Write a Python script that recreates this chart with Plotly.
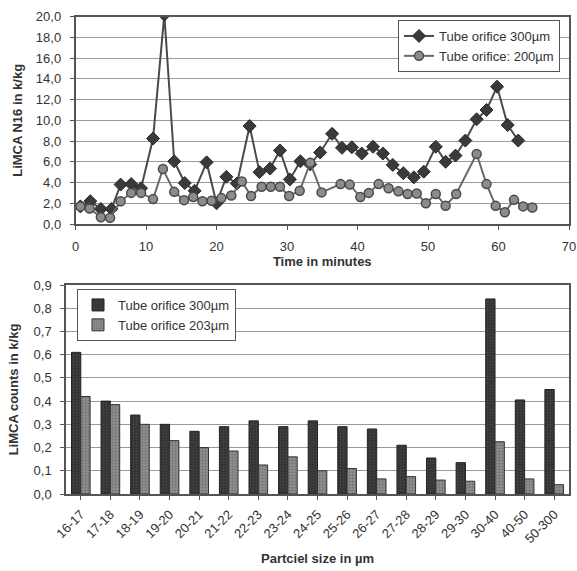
import plotly.graph_objects as go

# ---- Top chart data (time series) ----
t_300 = [0.7, 2.1, 3.6, 5.1, 6.4, 7.9, 9.3, 11.0, 12.6, 14.0, 15.5, 16.9, 18.6, 20.0, 21.4,
         22.9, 24.7, 26.1, 27.6, 29.0, 30.4, 31.9, 33.3, 34.7, 36.4, 37.8, 39.2, 40.6, 42.2,
         43.6, 45.0, 46.5, 48.0, 49.4, 51.1, 52.5, 53.9, 55.3, 56.9, 58.3, 59.8, 61.3, 62.8]
v_300 = [1.7, 2.2, 1.45, 1.45, 3.8, 3.85, 3.45, 8.25, 20.2, 6.05, 3.95, 3.2, 5.95, 2.0, 4.55,
         3.9, 9.45, 5.0, 5.35, 7.1, 4.3, 6.05, 5.75, 6.9, 8.7, 7.35, 7.4, 6.8, 7.45,
         6.8, 5.7, 4.9, 4.5, 5.05, 7.45, 6.0, 6.6, 8.05, 10.1, 11.0, 13.25, 9.55, 8.05]

t_200 = [0.7, 2.0, 3.6, 4.9, 6.4, 7.9, 9.3, 11.0, 12.4, 14.0, 15.4, 16.7, 18.0, 19.3, 20.7,
         22.1, 23.6, 24.9, 26.4, 27.7, 29.0, 30.3, 31.8, 33.3, 34.9, 37.6, 38.9, 40.4, 41.6,
         43.0, 44.4, 45.8, 47.1, 48.4, 49.7, 51.1, 52.5, 54.0, 56.9, 58.3, 59.6, 60.9, 62.2,
         63.5, 64.8]
v_200 = [1.7, 1.5, 0.65, 0.6, 2.2, 3.0, 3.0, 2.4, 5.3, 3.1, 2.3, 2.6, 2.2, 2.25, 2.5,
         2.75, 4.1, 2.7, 3.6, 3.6, 3.6, 2.7, 3.2, 5.9, 3.05, 3.85, 3.8, 2.6, 3.0,
         3.85, 3.45, 3.15, 2.9, 2.95, 2.0, 2.9, 1.75, 2.9, 6.75, 3.85, 1.75, 1.13, 2.33,
         1.7, 1.6]

name_300 = "Tube orifice 300µm"
name_200 = "Tube orifice: 200µm"

# ---- Bottom chart data (size classes) ----
sizes = ["16-17", "17-18", "18-19", "19-20", "20-21", "21-22", "22-23", "23-24", "24-25",
         "25-26", "26-27", "27-28", "28-29", "29-30", "30-40", "40-50", "50-300"]
counts_300 = [0.61, 0.40, 0.34, 0.30, 0.27, 0.29, 0.315, 0.29, 0.315, 0.29, 0.28, 0.21,
              0.155, 0.135, 0.84, 0.405, 0.45]
counts_203 = [0.42, 0.385, 0.30, 0.23, 0.20, 0.185, 0.125, 0.16, 0.10, 0.11, 0.065, 0.075,
              0.06, 0.055, 0.225, 0.065, 0.04]
bar_name_300 = "Tube orifice 300µm"
bar_name_203 = "Tube orifice 203µm"

W, H = 577, 571
FONT = "Liberation Sans, Arial, sans-serif"

def px_x(p):
    return p / W

def px_y(p):
    return 1 - p / H

fig = go.Figure()

fig.add_trace(go.Scatter(
    x=t_300, y=v_300, name=name_300, mode="lines+markers",
    line=dict(color="#4a4a4a", width=2),
    marker=dict(symbol="diamond", size=10, color="#3a3a3a", line=dict(color="#2a2a2a", width=1)),
    xaxis="x", yaxis="y", legend="legend"))
fig.add_trace(go.Scatter(
    x=t_200, y=v_200, name=name_200, mode="lines+markers",
    line=dict(color="#6a6a6a", width=2),
    marker=dict(symbol="circle", size=9, color="#8c8c8c", line=dict(color="#4a4a4a", width=1.5)),
    xaxis="x", yaxis="y", legend="legend"))

fig.add_trace(go.Bar(
    x=sizes, y=counts_300, name=bar_name_300,
    marker=dict(color="#3c3c3c", line=dict(color="#222222", width=1),
                pattern=dict(shape=".", fgcolor="#5a5a5a", bgcolor="#333333", size=3, solidity=0.3)),
    xaxis="x2", yaxis="y2", legend="legend2"))
fig.add_trace(go.Bar(
    x=sizes, y=counts_203, name=bar_name_203,
    marker=dict(color="#7a7a7a", line=dict(color="#333333", width=1),
                pattern=dict(shape=".", fgcolor="#555555", bgcolor="#8e8e8e", size=3, solidity=0.35)),
    xaxis="x2", yaxis="y2", legend="legend2"))

axis_common = dict(showline=True, linecolor="#555555", linewidth=1.5, mirror=True,
                   ticks="outside", ticklen=4, tickcolor="#555555", automargin=False,
                   tickfont=dict(family=FONT, size=13, color="#333333"))

fig.update_layout(
    width=W, height=H,
    margin=dict(l=0, r=0, t=0, b=0),
    paper_bgcolor="white", plot_bgcolor="white",
    separators=",.",
    font=dict(family=FONT, size=13, color="#333333"),
    barmode="group", bargap=0.37, bargroupgap=0.0,
    xaxis=dict(domain=[px_x(75.5), px_x(569)], range=[0, 70], dtick=10, showgrid=False,
               anchor="y", ticklabelstandoff=6,
               title=dict(text="<b>Time in minutes</b>", font=dict(size=13), standoff=2),
               **axis_common),
    yaxis=dict(domain=[px_y(224), px_y(16.7)], range=[0, 20], dtick=2, tickformat=".1f",
               showgrid=True, gridcolor="#9a9a9a", gridwidth=1, anchor="x",
               ticklabelstandoff=6,
               title=dict(text="<b>LiMCA N16 in k/kg</b>", font=dict(size=13), standoff=10),
               **axis_common),
    xaxis2=dict(domain=[px_x(66), px_x(569)], type="category", showgrid=False, anchor="y2",
                tickangle=-45, ticklabelstandoff=2,
                title=dict(text="<b>Partciel size in µm</b>", font=dict(size=13), standoff=9),
                **axis_common),
    yaxis2=dict(domain=[px_y(494), px_y(285)], range=[0, 0.9], dtick=0.1, tickformat=".1f",
                showgrid=True, gridcolor="#9a9a9a", gridwidth=1, anchor="x2",
                ticklabelstandoff=6,
                title=dict(text="<b>LiMCA counts in k/kg</b>", font=dict(size=13), standoff=12),
                **axis_common),
    legend=dict(x=px_x(398), y=px_y(20), xanchor="left", yanchor="top",
                bgcolor="white", bordercolor="#555555", borderwidth=1,
                font=dict(family=FONT, size=13, color="#333333"),
                tracegroupgap=0, itemwidth=30),
    legend2=dict(x=px_x(77), y=px_y(289), xanchor="left", yanchor="top",
                 bgcolor="white", bordercolor="#555555", borderwidth=1,
                 font=dict(family=FONT, size=13, color="#333333"),
                 tracegroupgap=0, itemwidth=30),
    showlegend=True,
)

# remove the page's default body margin and scrollbars so the figure fills the window exactly
page_fix = ("document.body.style.margin='0';"
            "document.body.style.overflow='hidden';"
            "document.documentElement.style.overflow='hidden';")
fig.write_html("out.html", post_script=page_fix, config={"displayModeBar": False})
